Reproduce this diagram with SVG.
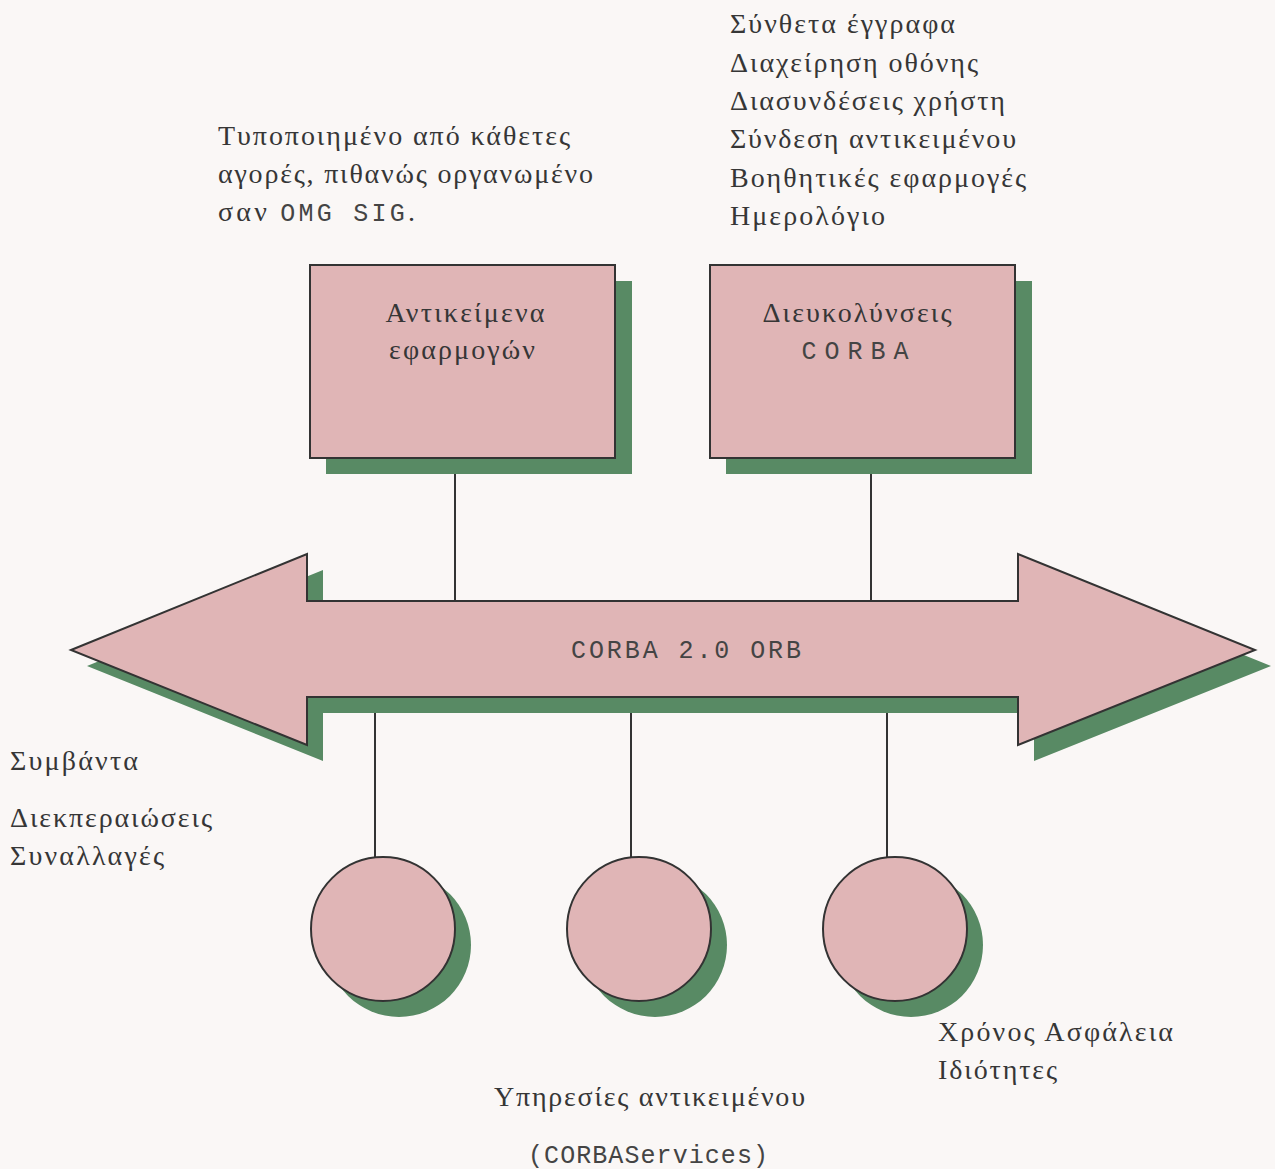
<svg xmlns="http://www.w3.org/2000/svg" width="1275" height="1169" viewBox="0 0 1275 1169">
<style>
.t{font-family:"Liberation Serif","DejaVu Serif",serif;font-size:28px;fill:#363636;}
.m{font-family:"Liberation Mono","DejaVu Sans Mono",monospace;font-size:25px;fill:#444;}
.node{fill:#e0b5b6;stroke:#333;stroke-width:2;}
.sh{fill:#588a64;}
.ln{stroke:#333;stroke-width:2;fill:none;}
</style>
<rect width="1275" height="1169" fill="#faf7f6"/>
<g id="notes">
<text class="t" x="218" y="145" textLength="352" lengthAdjust="spacing">Τυποποιημένο από κάθετες</text>
<text class="t" x="218" y="183" textLength="375" lengthAdjust="spacing">αγορές, πιθανώς οργανωμένο</text>
<text class="t" x="218" y="221" textLength="197" lengthAdjust="spacing">σαν <tspan class="m">OMG SIG</tspan>.</text>
<text class="t" x="730" y="33" textLength="225" lengthAdjust="spacing">Σύνθετα έγγραφα</text>
<text class="t" x="730" y="72" textLength="248" lengthAdjust="spacing">Διαχείρηση οθόνης</text>
<text class="t" x="730" y="110" textLength="275" lengthAdjust="spacing">Διασυνδέσεις χρήστη</text>
<text class="t" x="730" y="148" textLength="286" lengthAdjust="spacing">Σύνδεση αντικειμένου</text>
<text class="t" x="730" y="187" textLength="296" lengthAdjust="spacing">Βοηθητικές εφαρμογές</text>
<text class="t" x="730" y="225" textLength="155" lengthAdjust="spacing">Ημερολόγιο</text>
<text class="t" x="10" y="770" textLength="128" lengthAdjust="spacing">Συμβάντα</text>
<text class="t" x="10" y="827" textLength="202" lengthAdjust="spacing">Διεκπεραιώσεις</text>
<text class="t" x="10" y="865" textLength="154" lengthAdjust="spacing">Συναλλαγές</text>
<text class="t" x="494" y="1106" textLength="311" lengthAdjust="spacing">Υπηρεσίες αντικειμένου</text>
<text class="t m" x="528" y="1163" textLength="240" lengthAdjust="spacing">(CORBAServices)</text>
<text class="t" x="938" y="1041" textLength="235" lengthAdjust="spacing">Χρόνος Ασφάλεια</text>
<text class="t" x="938" y="1079" textLength="119" lengthAdjust="spacing">Ιδιότητες</text>
</g>
<g id="connectors">
<line class="ln" x1="455" y1="458" x2="455" y2="601"/>
<line class="ln" x1="871" y1="458" x2="871" y2="601"/>
<line class="ln" x1="375" y1="697" x2="375" y2="858"/>
<line class="ln" x1="631" y1="697" x2="631" y2="858"/>
<line class="ln" x1="887" y1="697" x2="887" y2="858"/>
</g>
<g id="orb">
<polygon class="sh" points="87,666 323,570 323,617 1034,617 1034,570 1271,666 1034,761 1034,713 323,713 323,761"/>
<polygon class="node" points="71,650 307,554 307,601 1018,601 1018,554 1255,650 1018,745 1018,697 307,697 307,745"/>
<text class="t m" x="686" y="658" text-anchor="middle" textLength="230" lengthAdjust="spacing">CORBA 2.0 ORB</text>
</g>
<g id="app-objects">
<rect class="sh" x="326" y="281" width="306" height="193"/>
<rect class="node" x="310" y="265" width="305" height="193"/>
<text class="t" x="465" y="322" text-anchor="middle" textLength="159" lengthAdjust="spacing">Αντικείμενα</text>
<text class="t" x="462" y="359" text-anchor="middle" textLength="146" lengthAdjust="spacing">εφαρμογών</text>
</g>
<g id="corba-facilities">
<rect class="sh" x="726" y="281" width="306" height="193"/>
<rect class="node" x="710" y="265" width="305" height="193"/>
<text class="t" x="857" y="322" text-anchor="middle" textLength="189" lengthAdjust="spacing">Διευκολύνσεις</text>
<text class="t m" x="855" y="359" text-anchor="middle" textLength="107" lengthAdjust="spacing">CORBA</text>
</g>
<g id="service1">
<circle class="sh" cx="399" cy="945" r="72"/>
<circle class="node" cx="383" cy="929" r="72"/>
</g>
<g id="service2">
<circle class="sh" cx="655" cy="945" r="72"/>
<circle class="node" cx="639" cy="929" r="72"/>
</g>
<g id="service3">
<circle class="sh" cx="911" cy="945" r="72"/>
<circle class="node" cx="895" cy="929" r="72"/>
</g>
</svg>
